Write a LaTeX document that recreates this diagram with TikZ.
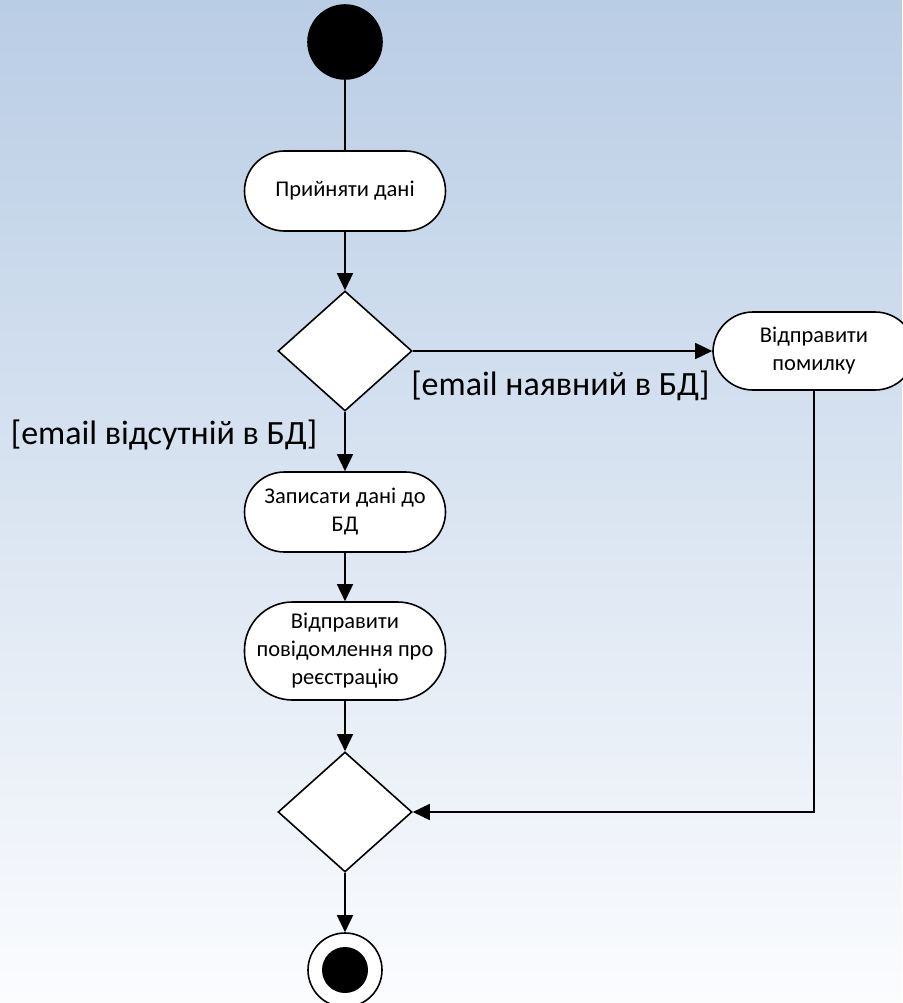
\documentclass[tikz,border=0pt]{standalone}
\usepackage{fontspec}
\setmainfont{Carlito}
\usepackage{tikz}
\usetikzlibrary{shapes,arrows.meta}
\definecolor{bgtop}{RGB}{185,205,229}
\definecolor{bgbottom}{RGB}{251,252,254}
\tikzset{act/.style={draw,fill=white,rectangle,rounded corners=40pt,minimum width=201pt,minimum height=80pt,align=center,font=\fontsize{22.5}{28}\selectfont},
  choice/.style={draw,fill=white,diamond,minimum width=134pt,minimum height=120pt,inner sep=0pt},
  guard/.style={font=\fontsize{34}{38}\selectfont,inner sep=0pt},
  startdot/.style={circle,fill=black,draw,minimum size=74pt,inner sep=0pt},
  enddot/.style={circle,fill=white,draw,minimum size=74pt,inner sep=0pt,path picture={\fill[black] (path picture bounding box.center) circle (23pt);}}}

\begin{document}
\begin{tikzpicture}[x=1pt,y=-1pt,line width=1.6pt,>={Triangle[length=17pt,width=16pt]}]
    \shade[top color=bgtop,bottom color=bgbottom] (0,0) rectangle (902,1003);
    \useasboundingbox (0,0) rectangle (902,1003);
    \node[startdot] (start) at (345,42) {};
    \node[act] (accept) at (345,191) {Прийняти дані};
    \node[choice] (check) at (345,351) {};
    \node[act,minimum width=202pt,minimum height=78pt] (error) at (814,351) {Відправити\\помилку};
    \node[act] (save) at (345,512) {Записати дані до\\БД};
    \node[act,minimum height=98pt,rounded corners=48pt] (notify) at (345,651) {Відправити\\повідомлення про\\реєстрацію};
    \node[choice] (merge) at (345,812) {};
    \node[enddot] (end) at (345,970) {};
    \draw (start) -- (accept);
    \path[->]
    (accept) edge (check)
    (check) edge node[guard,pos=1,anchor=base east,xshift=-2pt,yshift=-44pt] {[email наявний в БД]} (error)
    (check) edge node[guard,pos=0.55,anchor=base east,xshift=-27pt] {[email відсутній в БД]} (save)
    (save) edge (notify)
    (notify) edge (merge)
    (merge) edge (end)
    ;
    \draw[->] (error) |- (merge);
\end{tikzpicture}
\end{document}
